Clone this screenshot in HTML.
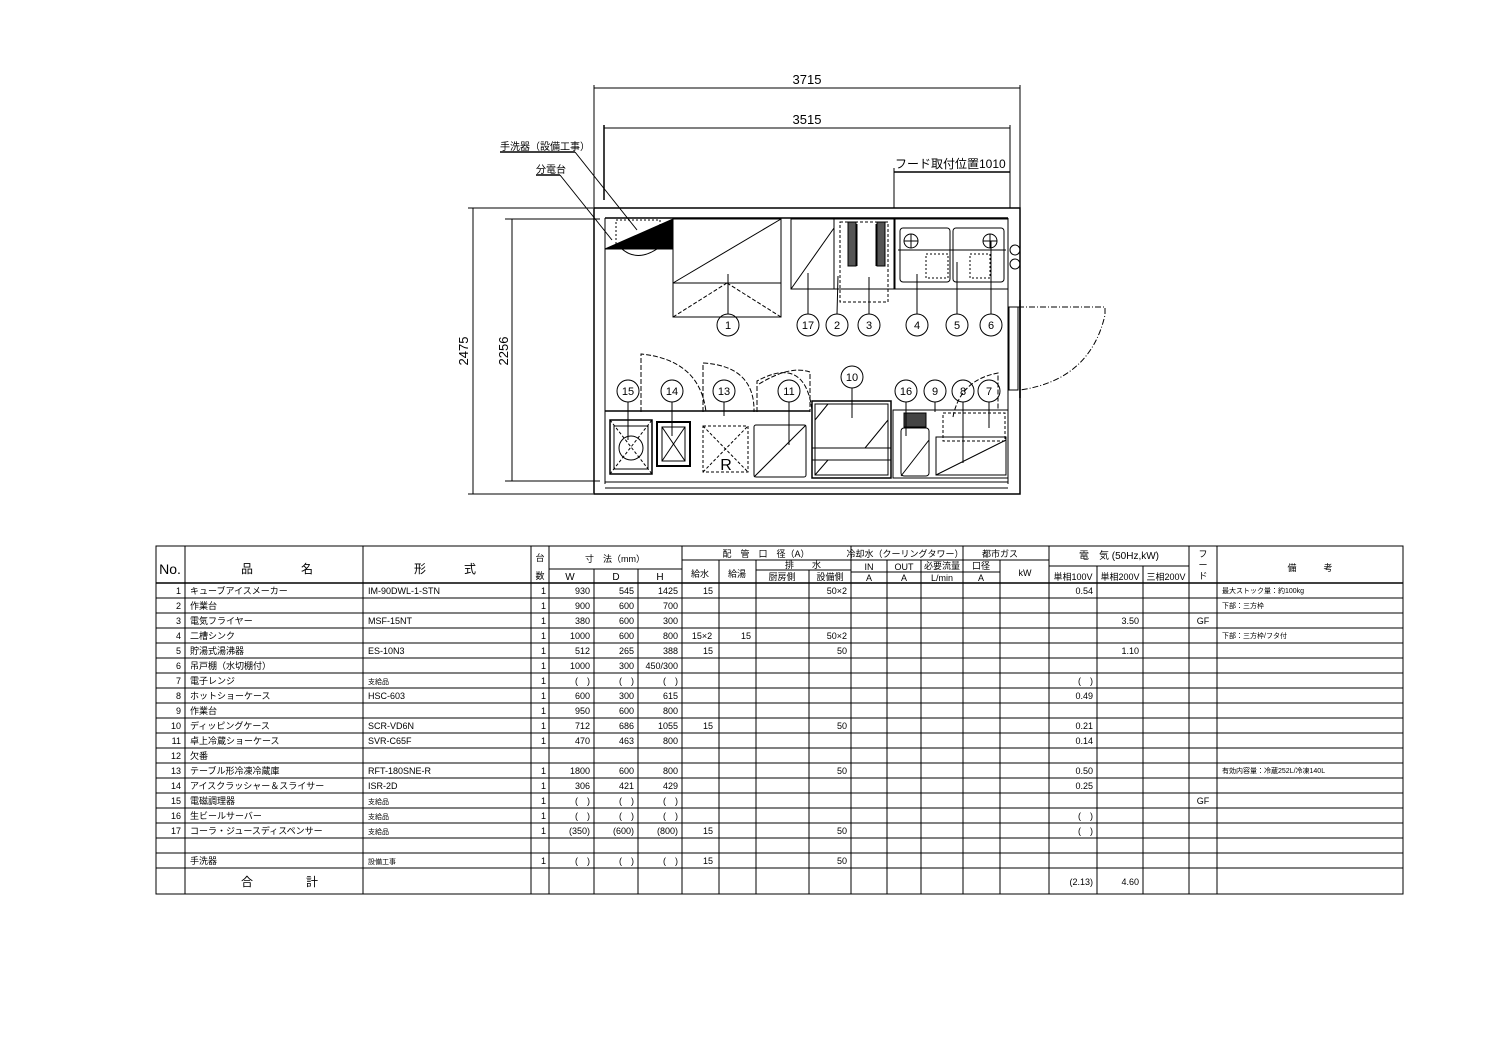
<!DOCTYPE html>
<html><head><meta charset="utf-8"><style>
html,body{margin:0;padding:0;background:#fff}
svg{display:block}
text{font-family:"Liberation Sans","Noto Sans CJK JP",sans-serif;fill:#000}
.s{font-size:9px}
.m{font-size:10px}
.c{font-size:11px;text-anchor:middle}
.r{text-anchor:end}
.mid{text-anchor:middle}
</style></head><body>
<svg width="1500" height="1058" viewBox="0 0 1500 1058" xmlns="http://www.w3.org/2000/svg">
<g stroke="#000" fill="none" stroke-width="1">
<!-- dimensions -->
<line x1="594" y1="85" x2="594" y2="208"/><line x1="1020" y1="85" x2="1020" y2="208"/>
<line x1="594" y1="88" x2="1020" y2="88"/>
<line x1="604" y1="125" x2="604" y2="200" stroke-width="1.5"/><line x1="1010" y1="125" x2="1010" y2="208"/>
<line x1="604" y1="128" x2="1010" y2="128"/>
<line x1="894" y1="168" x2="894" y2="208"/>
<line x1="894" y1="172" x2="1010" y2="172" stroke-width="1.5"/>
<line x1="468" y1="208" x2="593" y2="208"/><line x1="468" y1="494" x2="593" y2="494"/>
<line x1="473" y1="208" x2="473" y2="494"/>
<line x1="505" y1="219" x2="600" y2="219"/><line x1="505" y1="481" x2="600" y2="481"/>
<line x1="512" y1="219" x2="512" y2="481"/>
<!-- leaders -->
<line x1="500" y1="152" x2="575" y2="152" stroke-width="1.5"/><line x1="575" y1="152" x2="637" y2="230"/>
<line x1="536" y1="175" x2="560" y2="175" stroke-width="1.5"/><line x1="560" y1="175" x2="612" y2="240"/>
<!-- walls -->
<rect x="594" y="208" width="426" height="286" stroke-width="1.5"/>
<line x1="605" y1="218" x2="605" y2="484"/>
<line x1="605" y1="218" x2="1008" y2="218" stroke-width="1.5"/>
<line x1="1008" y1="218" x2="1008" y2="484"/>
<line x1="605" y1="482" x2="1008" y2="482"/><line x1="605" y1="488" x2="1008" y2="488"/>
<!-- door -->
<rect x="1009" y="307" width="9" height="83" fill="#fff"/>
<line x1="1020" y1="300" x2="1020" y2="398" stroke-width="1.5"/>
<path d="M1018 307 H1105 V315 Q1090 380 1020 390" stroke-dasharray="6,2,1,2"/>
<circle cx="1015" cy="250" r="5"/><circle cx="1015" cy="264" r="5"/>
<!-- hand sink / panel -->
<polygon points="605,249 673,219 673,249" fill="#000"/>
<rect x="616" y="220" width="44" height="28" stroke-dasharray="2,2"/>
<path d="M622 249 Q637 262 657 249"/>
<!-- item1 -->
<rect x="673" y="219" width="108" height="98"/>
<line x1="673" y1="283" x2="781" y2="283"/>
<line x1="673" y1="283" x2="781" y2="219"/>
<line x1="673" y1="317" x2="727" y2="283" stroke-dasharray="4,2"/>
<line x1="781" y1="317" x2="727" y2="283" stroke-dasharray="4,2"/>
<line x1="728" y1="314" x2="728" y2="274"/>
<!-- 17 -->
<rect x="791" y="219" width="43" height="70"/><line x1="791" y1="289" x2="834" y2="228"/>
<line x1="808" y1="314" x2="808" y2="273"/>
<!-- 2 / 3 -->
<rect x="834" y="219" width="60" height="70"/>
<rect x="840" y="222" width="48" height="80" stroke-dasharray="3,2"/>
<rect x="848" y="222" width="8" height="44" fill="#555"/><rect x="877" y="222" width="8" height="44" fill="#555"/>
<line x1="857" y1="224" x2="857" y2="266"/><line x1="876" y1="224" x2="876" y2="266"/>
<line x1="837" y1="314" x2="838" y2="276"/><line x1="869" y1="314" x2="869" y2="277"/>
<!-- sink -->
<rect x="895" y="219" width="113" height="70"/>
<rect x="900" y="228" width="50" height="54" rx="3"/><rect x="953" y="228" width="51" height="54" rx="3"/>
<line x1="898" y1="250" x2="1006" y2="250"/>
<circle cx="911" cy="241" r="7"/><line x1="904" y1="241" x2="918" y2="241"/><line x1="911" y1="234" x2="911" y2="248"/>
<circle cx="990" cy="241" r="7"/><line x1="983" y1="241" x2="997" y2="241"/><line x1="990" y1="234" x2="990" y2="248"/>
<rect x="926" y="254" width="22" height="24" stroke-dasharray="2,2"/><rect x="970" y="254" width="20" height="24" stroke-dasharray="2,2"/>
<line x1="917" y1="314" x2="917" y2="274"/><line x1="957" y1="314" x2="957" y2="262"/><line x1="991" y1="314" x2="991" y2="241"/>
<!-- top circles -->
<circle cx="728" cy="325" r="11"/><circle cx="808" cy="325" r="11"/><circle cx="837" cy="325" r="11"/><circle cx="869" cy="325" r="11"/>
<circle cx="917" cy="325" r="11"/><circle cx="957" cy="325" r="11"/><circle cx="991" cy="325" r="11"/>
<!-- bottom counter -->
<line x1="605" y1="411" x2="810" y2="411" stroke-width="1.5"/>
<path d="M641 412 V354 Q700 360 706 412" stroke-dasharray="5,2"/>
<path d="M703 412 V363 Q755 366 754 412" stroke-dasharray="5,2"/>
<path d="M757 412 V381 Q805 355 812 410" stroke-dasharray="5,2"/>
<path d="M759 384 Q790 365 810 372 V412" stroke-dasharray="5,2"/>
<!-- 15 -->
<rect x="610" y="420" width="42" height="54" stroke-width="1.5"/><rect x="614" y="426" width="34" height="43"/>
<circle cx="631" cy="448" r="12"/><line x1="610" y1="474" x2="652" y2="420" stroke-dasharray="3,2"/><line x1="610" y1="420" x2="652" y2="474" stroke-dasharray="3,2"/>
<!-- 14 -->
<rect x="657" y="422" width="33" height="44" stroke-width="2"/><rect x="662" y="427" width="23" height="34"/>
<line x1="662" y1="427" x2="685" y2="461"/><line x1="662" y1="461" x2="685" y2="427"/>
<!-- 13 -->
<rect x="703" y="426" width="45" height="46" stroke-dasharray="3,2"/>
<line x1="703" y1="426" x2="748" y2="472" stroke-dasharray="3,2"/><line x1="703" y1="472" x2="748" y2="426" stroke-dasharray="3,2"/>
<!-- 11 -->
<rect x="754" y="425" width="52" height="52" rx="2"/><line x1="754" y1="477" x2="806" y2="425"/>
<!-- 10 -->
<rect x="812" y="401" width="79" height="77" stroke-width="1.5"/><rect x="815" y="404" width="73" height="71"/>
<line x1="812" y1="448" x2="891" y2="448"/><line x1="812" y1="460" x2="891" y2="460"/>
<line x1="815" y1="420" x2="828" y2="404"/><line x1="865" y1="448" x2="888" y2="420"/><line x1="815" y1="475" x2="828" y2="460"/>
<!-- 16-7 -->
<rect x="893" y="410" width="115" height="68"/>
<rect x="904" y="413" width="22" height="14" fill="#444"/>
<rect x="901" y="428" width="28" height="48" rx="3"/><line x1="901" y1="476" x2="929" y2="440"/>
<rect x="943" y="413" width="62" height="28" stroke-dasharray="3,2"/>
<rect x="936" y="437" width="70" height="38"/><line x1="936" y1="475" x2="1006" y2="440"/>
<path d="M953 417 Q960 380 998 373 V410" stroke-dasharray="5,2"/>
<!-- bottom leaders -->
<line x1="628" y1="402" x2="628" y2="440"/><line x1="672" y1="402" x2="672" y2="436"/><line x1="724" y1="402" x2="724" y2="416"/>
<line x1="789" y1="402" x2="789" y2="445"/><line x1="852" y1="388" x2="852" y2="418"/><line x1="906" y1="402" x2="906" y2="436"/>
<line x1="935" y1="402" x2="935" y2="412"/><line x1="963" y1="402" x2="963" y2="463"/><line x1="989" y1="402" x2="989" y2="428"/>
<circle cx="628" cy="391" r="11"/><circle cx="672" cy="391" r="11"/><circle cx="724" cy="391" r="11"/><circle cx="789" cy="391" r="11"/>
<circle cx="852" cy="377" r="11"/><circle cx="906" cy="391" r="11"/><circle cx="935" cy="391" r="11"/><circle cx="963" cy="391" r="11"/><circle cx="989" cy="391" r="11"/>
</g>
<g>
<text x="807" y="84" class="mid" font-size="13">3715</text>
<text x="807" y="124" class="mid" font-size="13">3515</text>
<text x="895" y="168" font-size="12">フード取付位置1010</text>
<text x="500" y="150" class="m">手洗器（設備工事）</text>
<text x="536" y="173" class="m">分電台</text>
<text transform="translate(468,351) rotate(-90)" class="mid" font-size="13">2475</text>
<text transform="translate(508,351) rotate(-90)" class="mid" font-size="13">2256</text>
<text x="726" y="470" class="mid" font-size="16">R</text>
<text x="728" y="329" class="c">1</text><text x="808" y="329" class="c">17</text><text x="837" y="329" class="c">2</text><text x="869" y="329" class="c">3</text>
<text x="917" y="329" class="c">4</text><text x="957" y="329" class="c">5</text><text x="991" y="329" class="c">6</text>
<text x="628" y="395" class="c">15</text><text x="672" y="395" class="c">14</text><text x="724" y="395" class="c">13</text><text x="789" y="395" class="c">11</text>
<text x="852" y="381" class="c">10</text><text x="906" y="395" class="c">16</text><text x="935" y="395" class="c">9</text><text x="963" y="395" class="c">8</text><text x="989" y="395" class="c">7</text>
</g>
<!-- table -->
<g stroke="#000" fill="none" stroke-width="1">
<rect x="156" y="546" width="1247" height="348"/>
<line x1="156" y1="583" x2="1403" y2="583" stroke-width="1.5"/>
<path d="M156 598H1403M156 613H1403M156 628H1403M156 643H1403M156 658H1403M156 673H1403M156 688H1403M156 703H1403M156 718H1403M156 733H1403M156 748H1403M156 763H1403M156 778H1403M156 793H1403M156 808H1403M156 823H1403M156 838H1403M156 853H1403M156 868H1403"/>
<path d="M185 546V894M363 546V894M531 546V894M549 546V894M594 569V894M638 569V894M682 546V894M719 560V894M756 560V894M809 570V894M851 546V894M887 560V894M921 560V894M963 546V894M1000 560V894M1049 546V894M1097 566V894M1143 566V894M1189 546V894M1217 546V894" />
<line x1="549" y1="569" x2="682" y2="569"/>
<line x1="682" y1="560" x2="1049" y2="560"/>
<line x1="756" y1="570" x2="851" y2="570"/>
<line x1="851" y1="572" x2="1000" y2="572"/>
<line x1="1049" y1="566" x2="1189" y2="566"/>
</g>
<g>
<text x="170" y="574" class="mid" font-size="14">No.</text>
<text x="247" y="573" class="mid" font-size="12">品</text><text x="307" y="573" class="mid" font-size="12">名</text>
<text x="420" y="573" class="mid" font-size="12">形</text><text x="470" y="573" class="mid" font-size="12">式</text>
<text x="540" y="561" class="s mid">台</text><text x="540" y="579" class="s mid">数</text>
<text x="615" y="562" class="s mid">寸　法（mm）</text>
<text x="570" y="580" class="m mid">W</text><text x="616" y="580" class="m mid">D</text><text x="660" y="580" class="m mid">H</text>
<text x="766" y="557" class="s mid">配　管　口　径（A）</text>
<text x="700" y="577" class="s mid">給水</text><text x="737" y="577" class="s mid">給湯</text>
<text x="803" y="568" class="s mid">排　　水</text>
<text x="782" y="580" class="s mid">厨房側</text><text x="830" y="580" class="s mid">設備側</text>
<text x="905" y="557" class="s mid">冷却水（クーリングタワー）</text>
<text x="869" y="570" class="s mid">IN</text><text x="869" y="581" class="s mid">A</text>
<text x="904" y="570" class="s mid">OUT</text><text x="904" y="581" class="s mid">A</text>
<text x="942" y="569" class="s mid" font-size="8">必要流量</text><text x="942" y="581" class="s mid">L/min</text>
<text x="1000" y="557" class="s mid">都市ガス</text>
<text x="981" y="569" class="s mid">口径</text><text x="981" y="581" class="s mid">A</text>
<text x="1025" y="576" class="s mid">kW</text>
<text x="1119" y="559" class="m mid">電　気 (50Hz,kW)</text>
<text x="1073" y="580" class="s mid">単相100V</text><text x="1120" y="580" class="s mid">単相200V</text><text x="1166" y="580" class="s mid">三相200V</text>
<text x="1203" y="557" class="s mid">フ</text><text x="1203" y="568" class="s mid">ー</text><text x="1203" y="579" class="s mid">ド</text>
<text x="1310" y="571" class="s mid">備　　　考</text>
</g>
<g class="s">
<!-- numbers -->
<g text-anchor="end">
<text x="181" y="594">1</text><text x="181" y="609">2</text><text x="181" y="624">3</text><text x="181" y="639">4</text><text x="181" y="654">5</text><text x="181" y="669">6</text><text x="181" y="684">7</text><text x="181" y="699">8</text><text x="181" y="714">9</text><text x="181" y="729">10</text><text x="181" y="744">11</text><text x="181" y="759">12</text><text x="181" y="774">13</text><text x="181" y="789">14</text><text x="181" y="804">15</text><text x="181" y="819">16</text><text x="181" y="834">17</text>
<text x="546" y="594">1</text><text x="546" y="609">1</text><text x="546" y="624">1</text><text x="546" y="639">1</text><text x="546" y="654">1</text><text x="546" y="669">1</text><text x="546" y="684">1</text><text x="546" y="699">1</text><text x="546" y="714">1</text><text x="546" y="729">1</text><text x="546" y="744">1</text><text x="546" y="774">1</text><text x="546" y="789">1</text><text x="546" y="804">1</text><text x="546" y="819">1</text><text x="546" y="834">1</text><text x="546" y="864">1</text>
<text x="590" y="594">930</text><text x="634" y="594">545</text><text x="678" y="594">1425</text>
<text x="590" y="609">900</text><text x="634" y="609">600</text><text x="678" y="609">700</text>
<text x="590" y="624">380</text><text x="634" y="624">600</text><text x="678" y="624">300</text>
<text x="590" y="639">1000</text><text x="634" y="639">600</text><text x="678" y="639">800</text>
<text x="590" y="654">512</text><text x="634" y="654">265</text><text x="678" y="654">388</text>
<text x="590" y="669">1000</text><text x="634" y="669">300</text><text x="678" y="669">450/300</text>
<text x="590" y="684">(　)</text><text x="634" y="684">(　)</text><text x="678" y="684">(　)</text>
<text x="590" y="699">600</text><text x="634" y="699">300</text><text x="678" y="699">615</text>
<text x="590" y="714">950</text><text x="634" y="714">600</text><text x="678" y="714">800</text>
<text x="590" y="729">712</text><text x="634" y="729">686</text><text x="678" y="729">1055</text>
<text x="590" y="744">470</text><text x="634" y="744">463</text><text x="678" y="744">800</text>
<text x="590" y="774">1800</text><text x="634" y="774">600</text><text x="678" y="774">800</text>
<text x="590" y="789">306</text><text x="634" y="789">421</text><text x="678" y="789">429</text>
<text x="590" y="804">(　)</text><text x="634" y="804">(　)</text><text x="678" y="804">(　)</text>
<text x="590" y="819">(　)</text><text x="634" y="819">(　)</text><text x="678" y="819">(　)</text>
<text x="590" y="834">(350)</text><text x="634" y="834">(600)</text><text x="678" y="834">(800)</text>
<text x="590" y="864">(　)</text><text x="634" y="864">(　)</text><text x="678" y="864">(　)</text>
<text x="847" y="594">50×2</text><text x="847" y="639">50×2</text><text x="847" y="654">50</text><text x="847" y="729">50</text><text x="847" y="774">50</text><text x="847" y="834">50</text><text x="847" y="864">50</text>
<text x="1093" y="594">0.54</text><text x="1093" y="684">(　)</text><text x="1093" y="699">0.49</text><text x="1093" y="729">0.21</text><text x="1093" y="744">0.14</text><text x="1093" y="774">0.50</text><text x="1093" y="789">0.25</text><text x="1093" y="819">(　)</text><text x="1093" y="834">(　)</text><text x="1093" y="885">(2.13)</text>
<text x="1139" y="624">3.50</text><text x="1139" y="654">1.10</text><text x="1139" y="885">4.60</text>
</g>
<g text-anchor="middle">
<text x="708" y="594">15</text><text x="702" y="639">15×2</text><text x="746" y="639">15</text><text x="708" y="654">15</text><text x="708" y="729">15</text><text x="708" y="834">15</text><text x="708" y="864">15</text>
<text x="1203" y="624">GF</text><text x="1203" y="804">GF</text>
</g>
<text x="190" y="594">キューブアイスメーカー</text>
<text x="190" y="609">作業台</text>
<text x="190" y="624">電気フライヤー</text>
<text x="190" y="639">二槽シンク</text>
<text x="190" y="654">貯湯式湯沸器</text>
<text x="190" y="669">吊戸棚（水切棚付）</text>
<text x="190" y="684">電子レンジ</text>
<text x="190" y="699">ホットショーケース</text>
<text x="190" y="714">作業台</text>
<text x="190" y="729">ディッピングケース</text>
<text x="190" y="744">卓上冷蔵ショーケース</text>
<text x="190" y="759">欠番</text>
<text x="190" y="774">テーブル形冷凍冷蔵庫</text>
<text x="190" y="789">アイスクラッシャー＆スライサー</text>
<text x="190" y="804">電磁調理器</text>
<text x="190" y="819">生ビールサーバー</text>
<text x="190" y="834">コーラ・ジュースディスペンサー</text>
<text x="190" y="864">手洗器</text>
<text x="368" y="594">IM-90DWL-1-STN</text>
<text x="368" y="624">MSF-15NT</text>
<text x="368" y="654">ES-10N3</text>
<text x="368" y="684" font-size="7">支給品</text>
<text x="368" y="699">HSC-603</text>
<text x="368" y="729">SCR-VD6N</text>
<text x="368" y="744">SVR-C65F</text>
<text x="368" y="774">RFT-180SNE-R</text>
<text x="368" y="789">ISR-2D</text>
<text x="368" y="804" font-size="7">支給品</text>
<text x="368" y="819" font-size="7">支給品</text>
<text x="368" y="834" font-size="7">支給品</text>
<text x="368" y="864" font-size="7">設備工事</text>
<text x="1222" y="593" font-size="7">最大ストック量：約100kg</text>
<text x="1222" y="608" font-size="7">下部：三方枠</text>
<text x="1222" y="638" font-size="7">下部：三方枠/フタ付</text>
<text x="1222" y="773" font-size="7">有効内容量：冷蔵252L/冷凍140L</text>
<text x="247" y="886" font-size="12" text-anchor="middle">合</text><text x="312" y="886" font-size="12" text-anchor="middle">計</text>
</g>
</svg>
</body></html>
